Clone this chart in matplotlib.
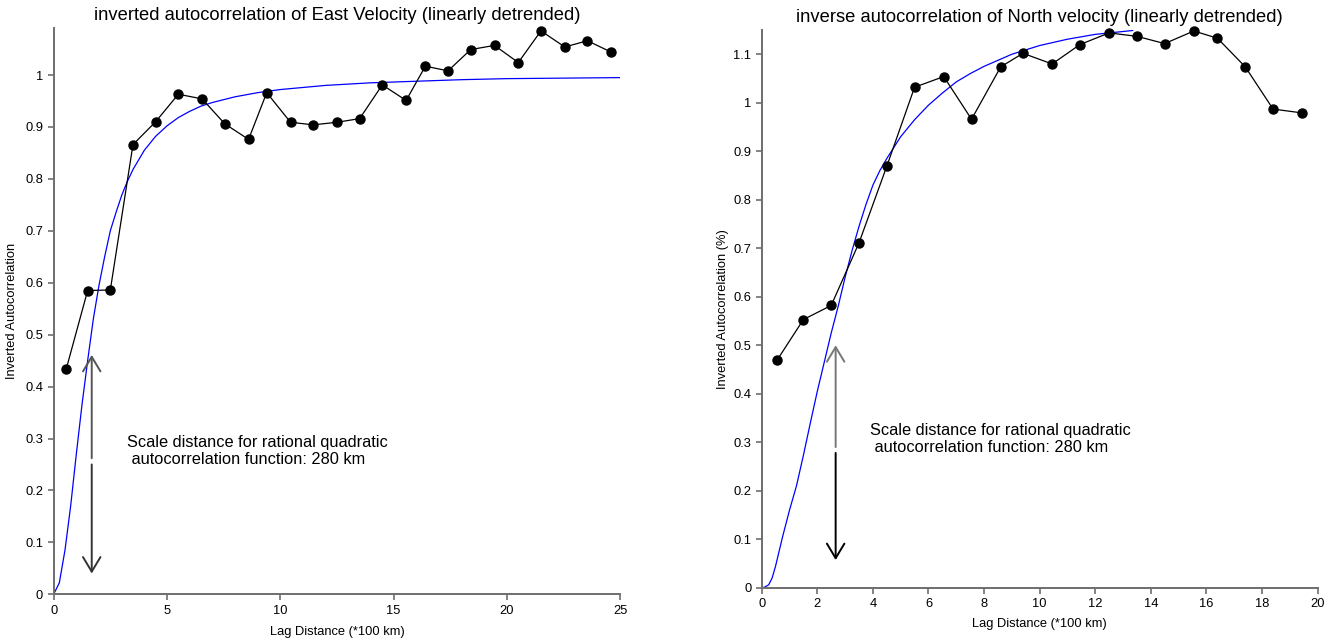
import numpy as np
import matplotlib
matplotlib.use('Agg')
import matplotlib.pyplot as plt

plt.rcParams['font.family'] = ['Liberation Sans', 'DejaVu Sans']

# lag positions (*100 km) shared by both panels
lag = [0.55, 1.5, 2.5, 3.5, 4.5, 5.5, 6.55, 7.55, 8.6, 9.4, 10.45, 11.45, 12.5,
       13.5, 14.5, 15.55, 16.4, 17.4, 18.4, 19.45, 20.5, 21.5, 22.55, 23.55, 24.6]

east_vals = [0.433, 0.585, 0.586, 0.866, 0.910, 0.963, 0.954, 0.906, 0.876, 0.966,
             0.909, 0.904, 0.909, 0.916, 0.981, 0.951, 1.017, 1.008, 1.049, 1.057,
             1.024, 1.085, 1.054, 1.066, 1.044]

north_vals = [0.469, 0.553, 0.582, 0.711, 0.869, 1.032, 1.054, 0.966, 1.074, 1.102,
              1.080, 1.120, 1.144, 1.137, 1.122, 1.148, 1.133, 1.074, 0.987, 0.979]

# fitted model curves
east_fit_x = [0, 0.25, 0.5, 0.75, 1.0, 1.25, 1.5, 1.75, 2.0, 2.25, 2.5, 2.75, 3.0,
              3.25, 3.5, 4.0, 4.5, 5.0, 5.5, 6.0, 6.5, 7.0, 8.0, 9.0, 10, 11, 12,
              14, 16, 18, 20, 22.5, 25]
east_fit_y = [0, 0.022, 0.085, 0.17, 0.27, 0.365, 0.45, 0.53, 0.595, 0.65, 0.70,
              0.735, 0.768, 0.795, 0.818, 0.855, 0.882, 0.902, 0.918, 0.930, 0.940,
              0.947, 0.958, 0.966, 0.972, 0.976, 0.980, 0.985, 0.988, 0.991, 0.993,
              0.994, 0.995]

north_fit_x = [0, 0.1, 0.25, 0.375, 0.5, 0.75, 1.0, 1.25, 1.5, 1.75, 2.0, 2.25, 2.5,
               2.75, 3.0, 3.25, 3.5, 3.75, 4.0, 4.25, 4.5, 5.0, 5.5, 6.0, 6.5, 7.0,
               7.5, 8.0, 9.0, 10.0, 11.0, 12.0, 13.35]
north_fit_y = [0, 0.001, 0.006, 0.02, 0.045, 0.105, 0.16, 0.21, 0.273, 0.34, 0.405,
               0.465, 0.525, 0.58, 0.64, 0.695, 0.745, 0.79, 0.83, 0.86, 0.885, 0.93,
               0.965, 0.995, 1.02, 1.043, 1.06, 1.075, 1.10, 1.118, 1.131, 1.141,
               1.149]

note = 'Scale distance for rational quadratic\n autocorrelation function: 280 km'


def style_axes(ax, xlim, xticks, ylim, yticks, ytick_labels, ylabel):
    ax.set_xlim(*xlim)
    ax.set_ylim(*ylim)
    for s in ['top', 'right']:
        ax.spines[s].set_visible(False)
    for s in ['left', 'bottom']:
        ax.spines[s].set_color('#6e6e6e')
        ax.spines[s].set_linewidth(1.4)
    ax.set_xticks(xticks)
    ax.set_xticklabels([str(t) for t in xticks])
    ax.set_yticks(yticks)
    ax.set_yticklabels(ytick_labels)
    ax.tick_params(direction='out', length=4.5, width=1.2, color='#6e6e6e',
                   labelsize=9.3, pad=3)
    ax.set_xlabel('Lag Distance (*100 km)', fontsize=9.3)
    ax.set_ylabel(ylabel, fontsize=9.3)


def double_arrow(ax, x, y_top, y_mid_hi, y_mid_lo, y_bot, c_up, c_down):
    style = '->,head_length=0.5,head_width=0.3'
    ax.annotate('', xy=(x, y_top), xytext=(x, y_mid_hi),
                arrowprops=dict(arrowstyle=style, color=c_up, lw=1.4,
                                mutation_scale=21, shrinkA=0, shrinkB=0))
    ax.annotate('', xy=(x, y_bot), xytext=(x, y_mid_lo),
                arrowprops=dict(arrowstyle=style, color=c_down, lw=1.4,
                                mutation_scale=21, shrinkA=0, shrinkB=0))


fig = plt.figure(figsize=(13.38, 6.44), dpi=100)

# left panel: East velocity
ax1 = fig.add_axes([0.0401, 0.0772, 0.4235, 0.8789])
ax1.plot(east_fit_x, east_fit_y, color='#0000ff', lw=0.9, zorder=2)
ax1.plot(lag, east_vals, color='black', lw=0.9, marker='o', markersize=6.5,
         zorder=3, clip_on=False)
style_axes(ax1, (0, 25), [0, 5, 10, 15, 20, 25], (0, 1.09),
           np.arange(0, 1.01, 0.1),
           ['0', '0.1', '0.2', '0.3', '0.4', '0.5', '0.6', '0.7', '0.8', '0.9', '1'],
           'Inverted Autocorrelation')
ax1.set_title('inverted autocorrelation of East Velocity (linearly detrended)',
              fontsize=13.2, pad=6)
double_arrow(ax1, 1.68, 0.461, 0.262, 0.25, 0.04, '#555555', '#333333')
ax1.text(3.24, 0.307, note, fontsize=11.8, va='top', ha='left', linespacing=1.15)
ax1.xaxis.set_label_coords(0.5, -0.056)
ax1.yaxis.set_label_coords(-0.063, 0.5)

# right panel: North velocity
ax2 = fig.add_axes([0.5693, 0.0874, 0.4154, 0.8660])
ax2.plot(north_fit_x, north_fit_y, color='#0000ff', lw=0.9, zorder=2)
ax2.plot(lag[:len(north_vals)], north_vals, color='black', lw=0.9, marker='o',
         markersize=6.5, zorder=3, clip_on=False)
style_axes(ax2, (0, 20), list(range(0, 21, 2)), (0, 1.15),
           np.arange(0, 1.11, 0.1),
           ['0', '0.1', '0.2', '0.3', '0.4', '0.5', '0.6', '0.7', '0.8', '0.9', '1', '1.1'],
           'Inverted Autocorrelation (%)')
ax2.set_title('inverse autocorrelation of North velocity (linearly detrended)',
              fontsize=13.2, pad=6)
double_arrow(ax2, 2.66, 0.50, 0.29, 0.278, 0.057, '#777777', 'black')
ax2.text(3.89, 0.339, note, fontsize=11.8, va='top', ha='left', linespacing=1.15)
ax2.xaxis.set_label_coords(0.5, -0.055)
ax2.yaxis.set_label_coords(-0.059, 0.5)

fig.savefig('out.png', dpi=100)
